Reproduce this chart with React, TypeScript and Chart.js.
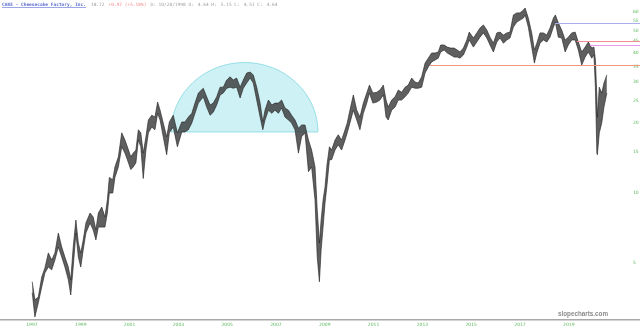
import React, { useEffect, useRef } from "react";
import { Chart, registerables } from "chart.js";

Chart.register(...registerables);

// Decimal-year dates of each sampled period
const dates = [
  1997.01, 1997.12, 1997.26, 1997.40, 1997.53, 1997.67, 1997.81, 1997.94, 1998.08, 1998.22,
  1998.35, 1998.49, 1998.59, 1998.69, 1998.80, 1998.90, 1999.00, 1999.10, 1999.21, 1999.38,
  1999.51, 1999.62, 1999.72, 1999.86, 1999.99, 2000.09, 2000.17, 2000.31, 2000.40, 2000.54,
  2000.68, 2000.81, 2000.91, 2001.05, 2001.15, 2001.26, 2001.36, 2001.46, 2001.56, 2001.67,
  2001.77, 2001.91, 2002.04, 2002.15, 2002.25, 2002.38, 2002.52, 2002.63, 2002.79, 2002.96,
  2003.14, 2003.27, 2003.41, 2003.55, 2003.68, 2003.82, 2004.02, 2004.16, 2004.30, 2004.43,
  2004.57, 2004.71, 2004.84, 2004.98, 2005.12, 2005.25, 2005.39, 2005.53, 2005.66, 2005.80,
  2005.94, 2006.07, 2006.21, 2006.35, 2006.46, 2006.55, 2006.69, 2006.83, 2006.96, 2007.10,
  2007.23, 2007.37, 2007.51, 2007.64, 2007.78, 2007.92, 2008.05, 2008.19, 2008.33, 2008.46,
  2008.60, 2008.69, 2008.78, 2008.85, 2008.93, 2009.01, 2009.09, 2009.19, 2009.28, 2009.42,
  2009.55, 2009.69, 2009.83, 2009.92, 2010.03, 2010.17, 2010.31, 2010.44, 2010.58, 2010.72,
  2010.83, 2010.97, 2011.13, 2011.26, 2011.40, 2011.51, 2011.60, 2011.74, 2011.88, 2012.01,
  2012.15, 2012.29, 2012.42, 2012.56, 2012.70, 2012.83, 2012.97, 2013.11, 2013.24, 2013.38,
  2013.52, 2013.65, 2013.75, 2013.89, 2014.02, 2014.16, 2014.30, 2014.43, 2014.54, 2014.68,
  2014.82, 2014.92, 2015.09, 2015.23, 2015.36, 2015.50, 2015.64, 2015.77, 2015.91, 2016.05,
  2016.18, 2016.32, 2016.46, 2016.59, 2016.73, 2016.87, 2017.00, 2017.14, 2017.21, 2017.34,
  2017.48, 2017.59, 2017.69, 2017.82, 2017.96, 2018.10, 2018.23, 2018.37, 2018.45, 2018.57,
  2018.71, 2018.85, 2018.98, 2019.12, 2019.26, 2019.39, 2019.53, 2019.67, 2019.80, 2019.94,
  2020.03, 2020.09, 2020.15, 2020.17, 2020.25, 2020.35, 2020.44, 2020.56,
];

const highs = [
  4.15, 3.47, 3.57, 4.35, 4.76, 5.52, 5.15, 5.52, 6.72, 5.85,
  5.30, 4.80, 4.23, 5.85, 7.65, 6.09, 5.52, 6.28, 7.42, 8.20,
  7.88, 6.93, 8.20, 8.70, 7.88, 9.33, 11.66, 11.4, 12.94, 14.3,
  18.14, 16.9, 15.8, 14.3, 14.84, 15.3, 18.7, 18.14, 14.84, 17.44,
  20.6, 21.6, 21.2, 24.6, 22.7, 20.0, 17.44, 20.2, 21.6, 18.14,
  20.2, 20.2, 21.2, 22.0, 24.35, 26.9, 28.2, 25.9, 23.9, 24.35,
  25.9, 28.5, 28.5, 30.6, 31.6, 30.6, 31.2, 28.5, 30.6, 32.8,
  33.1, 32.2, 28.5, 24.35, 20.2, 22.7, 25.1, 23.9, 24.35, 24.35,
  25.1, 23.2, 22.7, 21.6, 20.6, 19.0, 19.6, 19.6, 16.9, 15.3,
  12.94, 8.45, 6.09, 7.65, 9.33, 10.6, 13.2, 15.8, 15.3, 16.9,
  17.8, 16.9, 18.7, 20.0, 22.7, 26.4, 22.7, 21.2, 24.35, 26.9,
  29.1, 26.9, 27.1, 27.7, 29.1, 25.1, 23.4, 25.1, 25.9, 27.7,
  27.1, 28.5, 29.1, 31.2, 30.0, 29.7, 31.6, 36.2, 38.0, 40.0,
  40.0, 40.4, 43.3, 43.3, 42.4, 42.0, 42.0, 41.2, 40.4, 42.0,
  45.5, 49.2, 46.4, 48.8, 51.2, 52.8, 50.2, 46.8, 44.1, 48.8,
  49.2, 47.8, 48.8, 49.2, 58.3, 59.5, 59.5, 61.2, 62.4, 56.5,
  48.8, 41.2, 44.1, 48.8, 48.8, 47.8, 51.2, 56.5, 58.3, 53.9,
  50.2, 45.5, 46.8, 48.8, 49.2, 44.6, 40.4, 42.4, 44.6, 42.0,
  42.4, 37.3, 25.9, 21.2, 28.5, 26.9, 29.7, 32.2,
];

const lows = [
  3.72, 2.93, 3.37, 3.94, 4.53, 4.80, 4.67, 5.15, 5.85, 5.30,
  4.80, 4.23, 3.64, 4.80, 6.72, 5.30, 4.80, 5.69, 6.72, 7.42,
  6.93, 6.28, 7.13, 7.13, 7.13, 8.20, 9.99, 9.99, 11.66, 12.94,
  15.8, 14.84, 13.9, 12.6, 12.94, 13.48, 16.9, 15.8, 11.54, 15.3,
  18.14, 19.2, 18.7, 22.0, 20.6, 17.44, 14.6, 18.14, 19.2, 15.8,
  18.3, 18.3, 18.7, 20.0, 22.0, 24.35, 25.9, 23.4, 21.6, 22.25,
  23.9, 26.4, 26.9, 28.2, 28.5, 28.2, 28.5, 25.6, 28.2, 29.7,
  31.2, 29.7, 25.1, 21.2, 18.7, 20.6, 22.7, 22.0, 22.7, 22.0,
  23.2, 21.2, 20.6, 20.0, 18.7, 14.84, 17.44, 18.14, 12.35, 12.94,
  9.33, 5.30, 4.15, 5.69, 7.13, 9.05, 10.8, 13.9, 13.9, 15.3,
  16.1, 15.3, 16.9, 18.14, 20.0, 22.7, 20.6, 18.7, 22.0, 24.35,
  26.9, 24.35, 24.6, 25.1, 26.4, 21.2, 20.6, 22.7, 23.4, 25.1,
  25.1, 25.9, 26.9, 28.5, 28.2, 28.2, 28.5, 32.8, 34.8, 36.6,
  37.3, 38.0, 40.4, 41.2, 40.0, 39.2, 38.4, 38.4, 38.0, 39.2,
  42.4, 45.5, 42.4, 44.6, 46.8, 48.8, 46.4, 43.3, 40.4, 44.6,
  46.4, 44.1, 45.5, 46.4, 51.7, 54.3, 55.4, 56.5, 58.3, 51.7,
  42.4, 36.2, 40.0, 44.1, 45.5, 44.6, 46.8, 51.7, 54.3, 46.8,
  46.4, 40.4, 43.3, 45.5, 45.5, 41.2, 35.5, 38.4, 40.4, 38.0,
  39.2, 28.5, 14.84, 14.6, 18.14, 20.0, 23.4, 26.9,
];

const xTickYears = [1997, 1999, 2001, 2003, 2005, 2007, 2009, 2011, 2013, 2015, 2017, 2019];
const yTickValues = [5, 10, 15, 20, 25, 30, 35, 40, 45, 50, 55, 60];

// Horizontal price levels drawn on the right
const levelPrices = [35.5, 53.7, 44.9, 43.3];
const levelStarts = [2013.31, 2018.44, 2019.34, 2019.87];
const levelColors = ["rgb(246,150,128)", "rgb(170,174,236)", "rgb(244,140,146)", "rgb(234,150,238)"];

// Rounded-top (dome) pattern annotation
const domeStart = 2002.7;
const domeEnd = 2008.72;
const domeBase = 18.3;
const domeTop = 36.4;

const X_MIN = 1995.69;
const X_MAX = 2021.18;
const Y_MIN = 2.87;
const Y_MAX = 67.6;

const overlayPlugin = {
  id: "overlay",
  beforeDatasetsDraw(chart: any) {
    const { ctx, scales } = chart;
    const x = scales.x;
    const y = scales.y;
    const x0 = x.getPixelForValue(domeStart);
    const x1 = x.getPixelForValue(domeEnd);
    const yb = y.getPixelForValue(domeBase);
    const yt = y.getPixelForValue(domeTop);
    ctx.save();
    ctx.beginPath();
    ctx.ellipse((x0 + x1) / 2, yb, (x1 - x0) / 2, yb - yt, 0, Math.PI, 2 * Math.PI);
    ctx.closePath();
    ctx.fillStyle = "rgb(206,241,245)";
    ctx.fill();
    ctx.strokeStyle = "rgb(150,222,230)";
    ctx.lineWidth = 1;
    ctx.stroke();
    ctx.restore();
  },
  afterDraw(chart: any) {
    const { ctx, scales, width } = chart;
    const x = scales.x;
    const y = scales.y;
    ctx.save();
    levelPrices.forEach((p, i) => {
      const py = Math.round(y.getPixelForValue(p));
      const px = Math.round(x.getPixelForValue(levelStarts[i]));
      ctx.fillStyle = levelColors[i];
      ctx.fillRect(px, py, width - px, 1);
    });
    // bottom axis line across the whole width
    const ay = Math.round(chart.chartArea.bottom);
    ctx.fillStyle = "#a8a8a8";
    ctx.fillRect(0, ay, width, 1.5);

    // watermark
    ctx.font = "bold 6.3px 'Liberation Sans'";
    ctx.fillStyle = "#8a8a8a";
    ctx.textAlign = "left";
    ctx.textBaseline = "alphabetic";
    ctx.fillText("slopecharts.com", 558, 316);

    // title line
    ctx.font = "bold 4.5px 'DejaVu Sans Mono'";
    let cx = 2;
    const ty = 6;
    const title = "CAKE - Cheesecake Factory, Inc.";
    ctx.fillStyle = "#5a6fd0";
    ctx.fillText(title, cx, ty);
    const tw = ctx.measureText(title).width;
    ctx.fillRect(cx, ty + 1, tw, 0.6);
    cx += tw + 5;
    const parts: [string, string][] = [
      ["18.72", "#9a9a9a"],
      ["+0.97 (+5.18%)", "#ee8888"],
      ["D: 10/28/1998 O:", "#a0a0a0"],
      ["4.64 H:", "#a0a0a0"],
      ["5.15 L:", "#a0a0a0"],
      ["4.51 C:", "#a0a0a0"],
      ["4.64", "#a0a0a0"],
    ];
    ctx.font = "4.5px 'DejaVu Sans Mono'";
    parts.forEach(([t, c]) => {
      ctx.fillStyle = c;
      ctx.fillText(t, cx, ty);
      cx += ctx.measureText(t).width + 4;
    });
    ctx.restore();
  },
};

export default function App() {
  const canvasRef = useRef<HTMLCanvasElement | null>(null);

  useEffect(() => {
    const canvas = canvasRef.current;
    if (!canvas) return;
    const highPts = dates.map((d, i) => ({ x: d, y: highs[i] }));
    const lowPts = dates.map((d, i) => ({ x: d, y: lows[i] }));
    const chart = new Chart(canvas, {
      type: "line",
      data: {
        datasets: [
          {
            data: highPts,
            borderColor: "rgba(35,35,35,0.9)",
            borderWidth: 0.7,
            pointRadius: 0,
            pointHoverRadius: 0,
            pointHitRadius: 0,
            fill: false,
            tension: 0,
          },
          {
            data: lowPts,
            borderColor: "rgba(35,35,35,0.9)",
            borderWidth: 0.7,
            pointRadius: 0,
            pointHoverRadius: 0,
            pointHitRadius: 0,
            fill: "-1",
            backgroundColor: "rgba(55,55,55,0.8)",
            tension: 0,
          },
        ],
      },
      options: {
        animation: false,
        responsive: false,
        devicePixelRatio: 1,
        layout: { padding: 0, autoPadding: false },
        plugins: {
          legend: { display: false },
          tooltip: { enabled: false },
          title: { display: false },
        },
        scales: {
          x: {
            type: "linear",
            min: X_MIN,
            max: X_MAX,
            grid: { display: false, drawTicks: false },
            border: { display: false },
            ticks: {
              color: "#5cb85c",
              font: { size: 4.5, family: "'DejaVu Sans'" },
              padding: 3,
              maxRotation: 0,
              autoSkip: false,
              callback: (v: any) => String(v),
            },
            afterBuildTicks: (s: any) => {
              s.ticks = xTickYears.map((v) => ({ value: v }));
            },
            afterFit: (s: any) => {
              s.height = 11;
              s.paddingLeft = 0;
              s.paddingRight = 0;
            },
          },
          y: {
            type: "logarithmic",
            position: "right",
            min: Y_MIN,
            max: Y_MAX,
            grid: { display: false, drawTicks: false },
            border: { display: false },
            ticks: {
              color: "#5cb85c",
              font: { size: 4.5, family: "'DejaVu Sans'" },
              padding: 11,
              autoSkip: false,
              callback: (v: any) => String(v),
            },
            afterBuildTicks: (s: any) => {
              s.ticks = yTickValues.map((v) => ({ value: v }));
            },
            afterFit: (s: any) => {
              s.width = 18;
              s.paddingTop = 0;
              s.paddingBottom = 0;
            },
          },
        },
      },
      plugins: [overlayPlugin],
    });
    return () => chart.destroy();
  }, []);

  return (
    <div style={{ position: "absolute", left: 0, top: 0, width: 640, height: 330, background: "#fff" }}>
      <canvas ref={canvasRef} width={640} height={330} style={{ display: "block" }} />
    </div>
  );
}
